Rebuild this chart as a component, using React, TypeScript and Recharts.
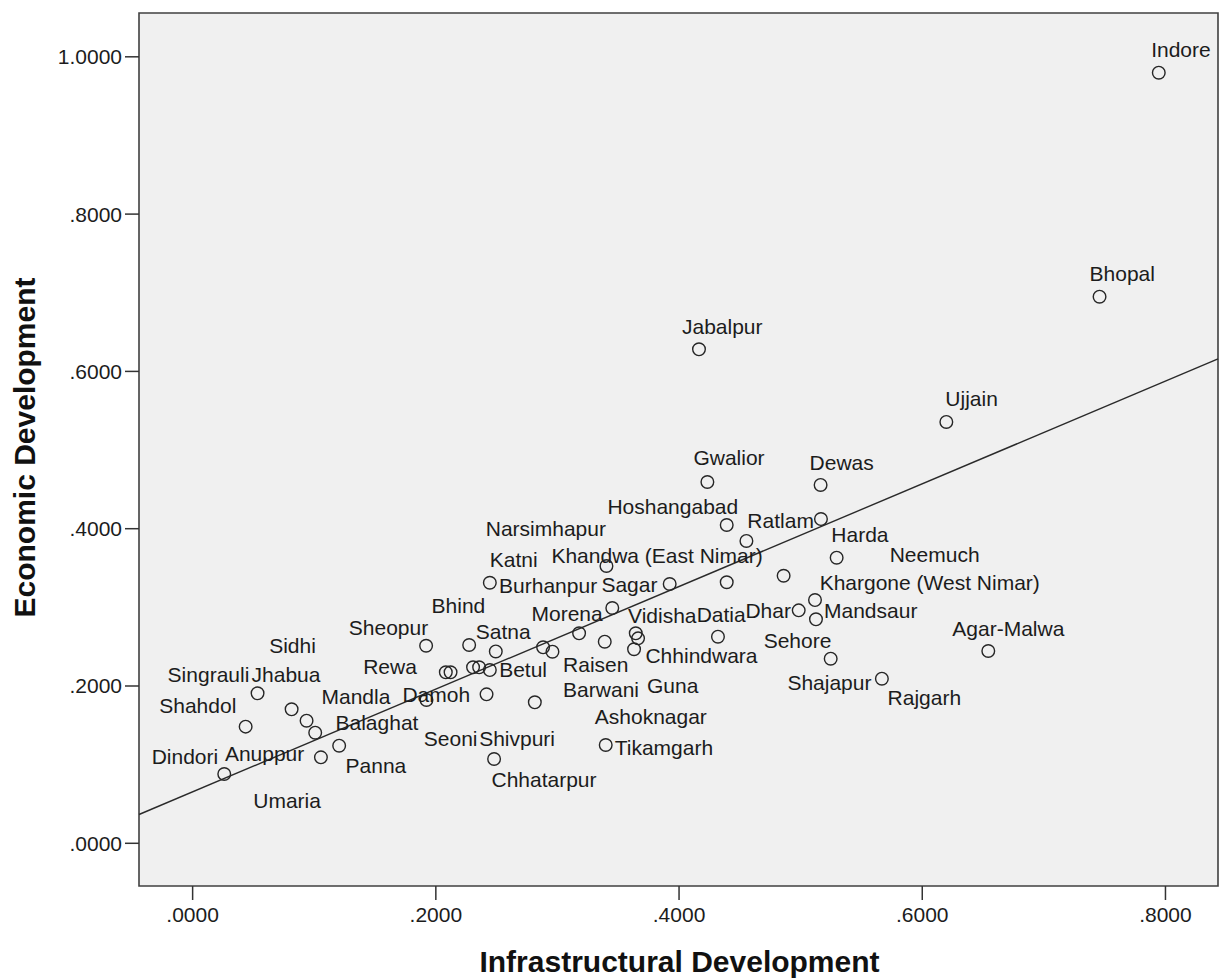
import { ScatterChart, Scatter, XAxis, YAxis, ReferenceArea, ReferenceLine, Label } from 'recharts';

// District scores: infrastructural (x) vs economic (y) development index
const DISTRICTS = [
  'Indore', 'Bhopal', 'Jabalpur', 'Ujjain', 'Gwalior', 'Dewas', 'Hoshangabad', 'Ratlam',
  'Khandwa (East Nimar)', 'Harda', 'Neemuch', 'Khargone (West Nimar)', 'Mandsaur', 'Dhar',
  'Sehore', 'Datia', 'Shajapur', 'Rajgarh', 'Agar-Malwa', 'Jhabua', 'Shahdol', 'Singrauli',
  'Sidhi', 'Anuppur', 'Panna', 'Umaria', 'Dindori', 'Mandla', 'Sheopur', 'Katni',
  'Narsimhapur', 'Sagar', 'Morena', 'Bhind', 'Satna', 'Burhanpur', 'Raisen', 'Alirajpur',
  'Guna', 'Vidisha', 'Ashoknagar', 'Chhindwara', 'Balaghat', 'Rewa', 'Damoh', 'Seoni',
  'Betul', 'Shivpuri', 'Barwani', 'Tikamgarh', 'Chhatarpur',
];

const INFRA = [
  0.7945, 0.7458, 0.4164, 0.6198, 0.4233, 0.5164, 0.4392, 0.5167,
  0.4554, 0.5296, 0.4392, 0.4860, 0.5118, 0.4984,
  0.5126, 0.4320, 0.5247, 0.5668, 0.6543, 0.0534, 0.0436, 0.0814,
  0.0937, 0.1008, 0.1205, 0.1055, 0.0260, 0.1923, 0.1920, 0.2444,
  0.3403, 0.3923, 0.3451, 0.2274, 0.2493, 0.3178, 0.2882, 0.2959,
  0.3389, 0.3644, 0.3663, 0.3630, 0.2082, 0.2121, 0.2306, 0.2356,
  0.2444, 0.2417, 0.2814, 0.3397, 0.2479,
];

const ECON = [
  0.9798, 0.6950, 0.6281, 0.5357, 0.4594, 0.4556, 0.4047, 0.4123,
  0.3844, 0.3631, 0.3319, 0.3402, 0.3093, 0.2962,
  0.2848, 0.2627, 0.2347, 0.2093, 0.2445, 0.1907, 0.1483, 0.1704,
  0.1559, 0.1406, 0.1241, 0.1093, 0.0881, 0.1822, 0.2512, 0.3313,
  0.3526, 0.3297, 0.2992, 0.2521, 0.2439, 0.2670, 0.2492, 0.2436,
  0.2563, 0.2670, 0.2606, 0.2467, 0.2174, 0.2174, 0.2238, 0.2238,
  0.2203, 0.1894, 0.1793, 0.1250, 0.1072,
];

const X_TICKS = [0, 0.2, 0.4, 0.6, 0.8];
const Y_TICKS = [0, 0.2, 0.4, 0.6, 0.8, 1.0];
const X_DOMAIN: [number, number] = [-0.0441, 0.8432];
const Y_DOMAIN: [number, number] = [-0.0543, 1.0557];

// linear fit line: econ = a + b * infra
const FIT_INTERCEPT = 0.0654;
const FIT_SLOPE = 0.6528;

// label placement in px: [left edge offset, vertical centre offset] from the point
const LABEL_OFFSET: Record<string, [number, number]> = {
  'Indore': [-7.6, -22.7], 'Bhopal': [-10, -22.7], 'Jabalpur': [-17, -22.6], 'Ujjain': [-1, -23.7],
  'Gwalior': [-14, -24], 'Dewas': [-11, -22.7], 'Hoshangabad': [-119.3, -19], 'Ratlam': [-73.6, 1],
  'Khandwa (East Nimar)': [-195, 15], 'Harda': [-5.3, -23.4], 'Neemuch': [163, -28],
  'Khargone (West Nimar)': [36, 6.6], 'Mandsaur': [9, 10], 'Dhar': [-53.3, 0.4],
  'Sehore': [-52.3, 20.7], 'Datia': [-21.3, -21.7], 'Shajapur': [-43.3, 24], 'Rajgarh': [5.7, 19.3],
  'Agar-Malwa': [-36, -22.7], 'Jhabua': [-6, -19], 'Shahdol': [-86.4, -20.7], 'Singrauli': [-124, -35],
  'Sidhi': [-37.4, -74.7], 'Anuppur': [-90.3, 20.6], 'Panna': [6.4, 20.3], 'Umaria': [-67.7, 42.7],
  'Dindori': [-72.6, -18], 'Mandla': [-105, -3.3], 'Sheopur': [-77.3, -18.7], 'Katni': [0, -23.4],
  'Narsimhapur': [-120.7, -37.7], 'Sagar': [-68.3, 1], 'Morena': [-80.8, 6], 'Bhind': [-37.6, -39.3],
  'Satna': [-20, -19.8], 'Burhanpur': [-80, -48.3], 'Raisen': [20, 16.7], 'Guna': [42.3, 43.3],
  'Vidisha': [-7.7, -18.3], 'Ashoknagar': [-43.3, 77.7], 'Chhindwara': [11.4, 6.4],
  'Balaghat': [-110.3, 50.4], 'Rewa': [-87.4, -5.6], 'Damoh': [-70.6, 27], 'Seoni': [-55.3, 71],
  'Betul': [9.3, -0.7], 'Shivpuri': [-7.4, 44], 'Barwani': [28.3, -13], 'Tikamgarh': [9, 2.7],
  'Chhatarpur': [-2.6, 21],
};

const FONT = '"Liberation Sans", Arial, sans-serif';

const data = DISTRICTS.map((name, i) => ({ name, x: INFRA[i], y: ECON[i] }));

const fmt = (v: number) => {
  const s = v.toFixed(4);
  return s.startsWith('0') ? s.slice(1) : s;
};

const DistrictMark = (props: any) => {
  const { cx, cy, payload } = props;
  const off = LABEL_OFFSET[payload.name];
  return (
    <g>
      <circle cx={cx} cy={cy} r={6.3} fill="none" stroke="#262626" strokeWidth={1.4} />
      {off && (
        <text
          x={cx + off[0]}
          y={cy + off[1]}
          dominantBaseline="central"
          fontSize={21}
          fontFamily={FONT}
          fill="#1c1c1c"
        >
          {payload.name}
        </text>
      )}
    </g>
  );
};

const tickStyle = { fontSize: 21, fontFamily: FONT, fill: '#1c1c1c' };

export default function App() {
  const fitStart = { x: X_DOMAIN[0], y: FIT_INTERCEPT + FIT_SLOPE * X_DOMAIN[0] };
  const fitEnd = { x: X_DOMAIN[1], y: FIT_INTERCEPT + FIT_SLOPE * X_DOMAIN[1] };

  return (
    <div style={{ position: 'absolute', left: 0, top: 0, background: '#fff' }}>
      <ScatterChart width={1224} height={978} margin={{ top: 13, right: 6, bottom: 0, left: 0 }}>
        <ReferenceArea
          x1={X_DOMAIN[0]}
          x2={X_DOMAIN[1]}
          y1={Y_DOMAIN[0]}
          y2={Y_DOMAIN[1]}
          fill="#f0f0f0"
          fillOpacity={1}
          stroke="#404040"
          strokeWidth={1.6}
          ifOverflow="visible"
        />
        <XAxis
          dataKey="x"
          type="number"
          domain={X_DOMAIN}
          ticks={X_TICKS}
          allowDataOverflow
          tickFormatter={fmt}
          height={92}
          tickSize={14}
          tickMargin={7}
          axisLine={false}
          tickLine={{ stroke: '#333', strokeWidth: 1.5 }}
          tick={tickStyle}
        >
          <Label
            content={(p: any) => {
              const vb = p.viewBox;
              return (
                <text
                  x={vb.x + vb.width / 2 + 1}
                  y={vb.y + 75}
                  textAnchor="middle"
                  dominantBaseline="central"
                  fontSize={30}
                  fontWeight="bold"
                  fontFamily={FONT}
                  fill="#111"
                >
                  Infrastructural Development
                </text>
              );
            }}
          />
        </XAxis>
        <YAxis
          dataKey="y"
          type="number"
          domain={Y_DOMAIN}
          ticks={Y_TICKS}
          allowDataOverflow
          tickFormatter={fmt}
          width={139}
          tickSize={14}
          tickMargin={3}
          axisLine={false}
          tickLine={{ stroke: '#333', strokeWidth: 1.5 }}
          tick={tickStyle}
        >
          <Label
            content={(p: any) => {
              const vb = p.viewBox;
              const cx = vb.x + 24;
              const cy = vb.y + vb.height / 2 - 2;
              return (
                <text
                  x={cx}
                  y={cy}
                  transform={`rotate(-90 ${cx} ${cy})`}
                  textAnchor="middle"
                  dominantBaseline="central"
                  fontSize={30}
                  fontWeight="bold"
                  fontFamily={FONT}
                  fill="#111"
                >
                  Economic Development
                </text>
              );
            }}
          />
        </YAxis>
        <ReferenceLine
          segment={[fitStart, fitEnd]}
          stroke="#2a2a2a"
          strokeWidth={1.4}
          ifOverflow="visible"
        />
        <Scatter data={data} shape={DistrictMark} isAnimationActive={false} />
      </ScatterChart>
    </div>
  );
}
